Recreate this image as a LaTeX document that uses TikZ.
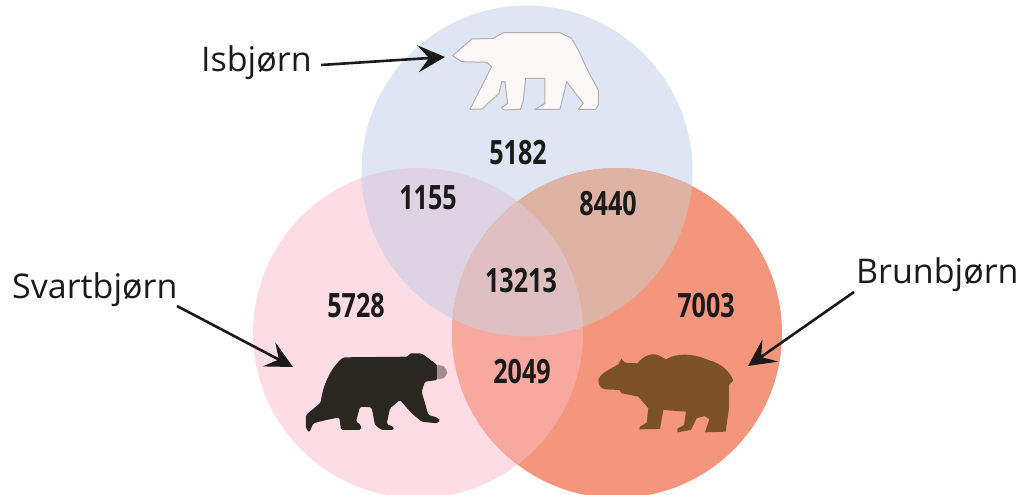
\documentclass[tikz,border=0pt]{standalone}
\usepackage{fontspec}
\setmainfont{Open Sans}
\usetikzlibrary{arrows.meta}
\definecolor{cblue}{HTML}{DFE6F3}
\definecolor{cpink}{HTML}{FDDCE5}
\definecolor{corange}{HTML}{F4967C}
\definecolor{cpb}{HTML}{DDD3E3}
\definecolor{cbo}{HTML}{DFB3A4}
\definecolor{cpo}{HTML}{F8A99F}
\definecolor{cmid}{HTML}{DFBFC2}
\definecolor{cink}{HTML}{1A1A1A}
\definecolor{cblack}{HTML}{2A2620}
\definecolor{cbrown}{HTML}{7C5128}
\definecolor{cwhite}{HTML}{FBF8F7}
\definecolor{cedge}{HTML}{B5AEAE}
\definecolor{csnout}{HTML}{A58A8E}
\tikzset{
  lbl/.style={font=\fontsize{34}{34}\selectfont,text=cink,inner sep=0pt,anchor=base west},
  num/.style={font=\fontsize{33.5}{33.5}\selectfont\bfseries,text=cink,inner sep=0pt,xscale=.75},
  pointer/.style={draw=cink,line width=2.6pt,-{Stealth[length=27pt,width=27pt,inset=11pt]}}
}
\begin{document}
\begin{tikzpicture}[x=1pt,y=-1pt]
\useasboundingbox (0,0) rectangle (1021,495);
\def\cA{(527,171) circle (165.5)}
\def\cB{(418,333) circle (165)}
\def\cC{(617,333) circle (165)}
\fill[cblue] \cA;
\fill[cpink] \cB;
\fill[corange] \cC;
\begin{scope}\clip \cA; \fill[cpb] \cB; \fill[cbo] \cC; \end{scope}
\begin{scope}\clip \cB; \fill[cpo] \cC; \end{scope}
\begin{scope}\clip \cA; \clip \cB; \fill[cmid] \cC; \end{scope}
% polar bear
\begin{scope}[shift={(430,10)},x=.3333pt,y=-.3333pt]
\filldraw[fill=cwhite,draw=cedge,line width=1pt,line join=round]
 (68,137)--(125,87)--(190,85)--(220,68)--(390,68)--(425,85)--(445,120)--(470,175)--(505,240)--(505,285)--(497,298)--(445,298)--(460,280)--(410,215)--(390,298)--(315,298)--(345,280)--(345,205)--(287,205)--(280,270)--(272,298)--(222,300)--(215,293)--(233,280)--(225,215)--(215,215)--(207,250)--(156,297)--(120,298)--(185,170)--(170,157)--(95,155)--cycle;
\end{scope}
% black bear
\begin{scope}[shift={(280,330)},x=.3333pt,y=-.3333pt]
\fill[cblack,rounded corners=1.5pt] (78,255)--(122,218) .. controls (128,170) and (150,115) .. (190,82)--(385,80)--(388,70)--(425,70)--(472,105)--(472,150)--(435,155)--(425,185)--(445,255)--(470,262)--(482,272)--(470,280)--(425,275)--(395,250)--(360,210)--(330,235)--(320,282)--(343,292)--(340,300)--(305,300)--(285,285)--(275,232)--(240,230)--(228,275)--(243,285)--(243,300)--(183,300)--(178,262)--(130,272)--(100,280)--(88,308)--(78,295)--cycle;
\fill[csnout] (472,105)--(490,108) .. controls (497,115) and (502,122) .. (502,128) .. controls (500,135) and (495,142) .. (490,145)--(472,148)--cycle;
\end{scope}
% brown bear
\begin{scope}[shift={(580,330)},x=.3333pt,y=-.3333pt]
\fill[cbrown] (55,150) .. controls (60,130) and (90,118) .. (115,103)--(124,87)--(135,98)--(172,100) .. controls (190,78) and (215,65) .. (240,78)--(258,88) .. controls (290,68) and (340,70) .. (385,90) .. controls (425,100) and (450,125) .. (460,152)--(447,165)--(447,235)--(437,305)--(375,307)--(388,268)--(375,258)--(350,265)--(333,300)--(292,307)--(292,296)--(312,285)--(318,245)--(250,240)--(240,297)--(178,298)--(180,290)--(200,278)--(205,235)--(175,200)--(125,190)--(118,180)--(75,178) .. controls (62,175) and (55,165) .. (55,150)--cycle;
\end{scope}
% labels
\node[lbl] (isb) at (201,72) {Isbjørn};
\node[lbl] (sva) at (12,298) {Svartbjørn};
\node[lbl] (bru) at (856,283) {Brunbjørn};
\coordinate (isbS) at (321,65);
\coordinate (isbT) at (445,57);
\coordinate (svaS) at (177,306);
\coordinate (svaT) at (293,367);
\coordinate (bruS) at (854,292);
\coordinate (bruT) at (748,366);
\draw[pointer] (isbS) -- (isbT);
\draw[pointer] (svaS) -- (svaT);
\draw[pointer] (bruS) -- (bruT);
% numbers
\node[num] (n1) at (518,153) {5182};
\node[num] (n2) at (428,198) {1155};
\node[num] (n3) at (608,204) {8440};
\node[num] (n4) at (521,281) {13213};
\node[num] (n5) at (356,306) {5728};
\node[num] (n6) at (706,306) {7003};
\node[num] (n7) at (522,372) {2049};
\end{tikzpicture}
\end{document}
